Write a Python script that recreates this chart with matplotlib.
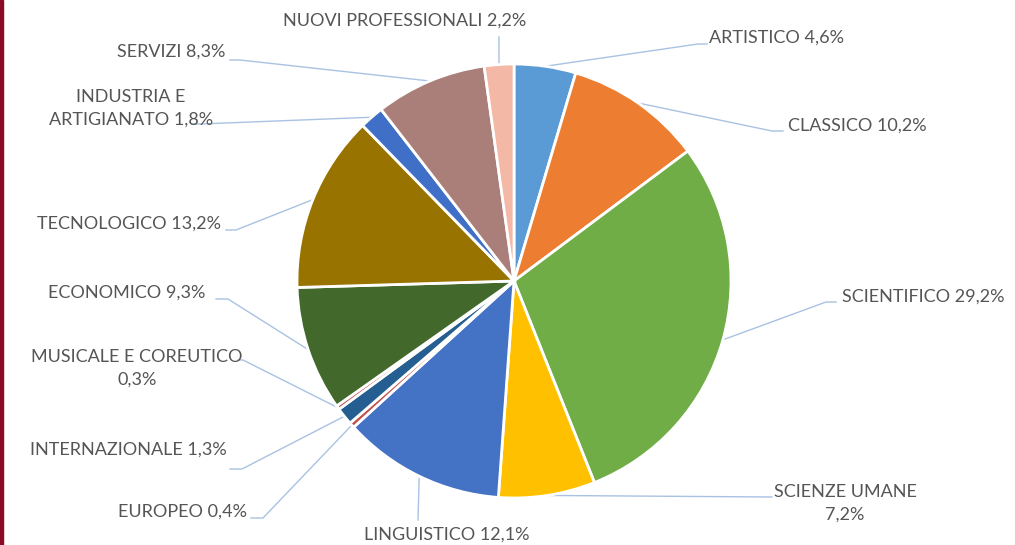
import numpy as np
import matplotlib.pyplot as plt
from matplotlib.patches import Rectangle

# Data
labels = ['ARTISTICO', 'CLASSICO', 'SCIENTIFICO', 'SCIENZE UMANE', 'LINGUISTICO',
          'EUROPEO', 'INTERNAZIONALE', 'MUSICALE E COREUTICO', 'ECONOMICO',
          'TECNOLOGICO', 'INDUSTRIA E ARTIGIANATO', 'SERVIZI', 'NUOVI PROFESSIONALI']
values = [4.6, 10.2, 29.2, 7.2, 12.1, 0.4, 1.3, 0.3, 9.3, 13.2, 1.8, 8.3, 2.2]
colors = ['#5B9BD5', '#ED7D31', '#70AD47', '#FFC000', '#4472C4', '#C0504D',
          '#255E91', '#C0504D', '#43682B', '#997300', '#3F6FC6', '#AB7F79', '#F3B8A6']
# how each label is written (line breaks)
label_text = ['ARTISTICO', 'CLASSICO', 'SCIENTIFICO', 'SCIENZE UMANE\n', 'LINGUISTICO',
              'EUROPEO', 'INTERNAZIONALE', 'MUSICALE E COREUTICO\n', 'ECONOMICO',
              'TECNOLOGICO', 'INDUSTRIA E\nARTIGIANATO', 'SERVIZI', 'NUOVI PROFESSIONALI']

W, H = 1015, 545
cx, cy, R = 514, 281, 217

# label layout in pixel coords (top-left origin): text x, text y, alignment, elbow, line end
layout = [
    (709, 38, 'left', (698, 44), (707, 44)),
    (788, 126, 'left', (772, 131), (783, 131)),
    (842, 297, 'left', (826, 302), (836, 302)),
    (845, 503, 'center', (772, 497), (772, 497)),
    (447, 535, 'center', (418, 520), (418, 520)),
    (247, 512, 'right', (263, 518), (251, 518)),
    (227, 450, 'right', (242, 469), (230, 469)),
    (137, 368, 'center', (243, 360), (238, 360)),
    (205, 293, 'right', (228, 299), (216, 299)),
    (221, 224, 'right', (236, 230), (226, 230)),
    (131, 108, 'center', (200, 124), (192, 124)),
    (225, 52, 'right', (240, 60), (230, 60)),
    (405, 21, 'center', (499, 37), (499, 37)),
]

plt.rcParams['font.family'] = ['Lato', 'DejaVu Sans']

fig = plt.figure(figsize=(W / 100, H / 100), dpi=100)
ax = fig.add_axes([0, 0, 1, 1])

wedges, _ = ax.pie(values, colors=colors, startangle=90, counterclock=False,
                   center=(cx, H - cy), radius=R, frame=True,
                   wedgeprops=dict(edgecolor='white', linewidth=2))
ax.set_xlim(0, W)
ax.set_ylim(0, H)
ax.set_aspect('equal')
ax.axis('off')

line_col = '#A9C2E2'
for w, v, txt, (tx, ty, ha, elbow, end) in zip(wedges, values, label_text, layout):
    ang = np.deg2rad((w.theta1 + w.theta2) / 2)
    sx = cx + R * np.cos(ang)
    sy = (H - cy) + R * np.sin(ang)
    xs = [sx, elbow[0], end[0]]
    ys = [sy, H - elbow[1], H - end[1]]
    ax.plot(xs, ys, color=line_col, lw=1, zorder=0.5)
    pct = f'{v:.1f}%'.replace('.', ',')
    if txt.endswith('\n'):
        s = txt + pct
    else:
        s = txt + ' ' + pct
    ax.text(tx, H - ty, s, ha=ha, va='center', fontsize=13, color='#555555',
            linespacing=1.5, multialignment='center')

# dark red strip on the left edge
ax.add_patch(Rectangle((0, 0), 3, H, color='#8B0A25', clip_on=False))

fig.savefig('out.png', dpi=100)
